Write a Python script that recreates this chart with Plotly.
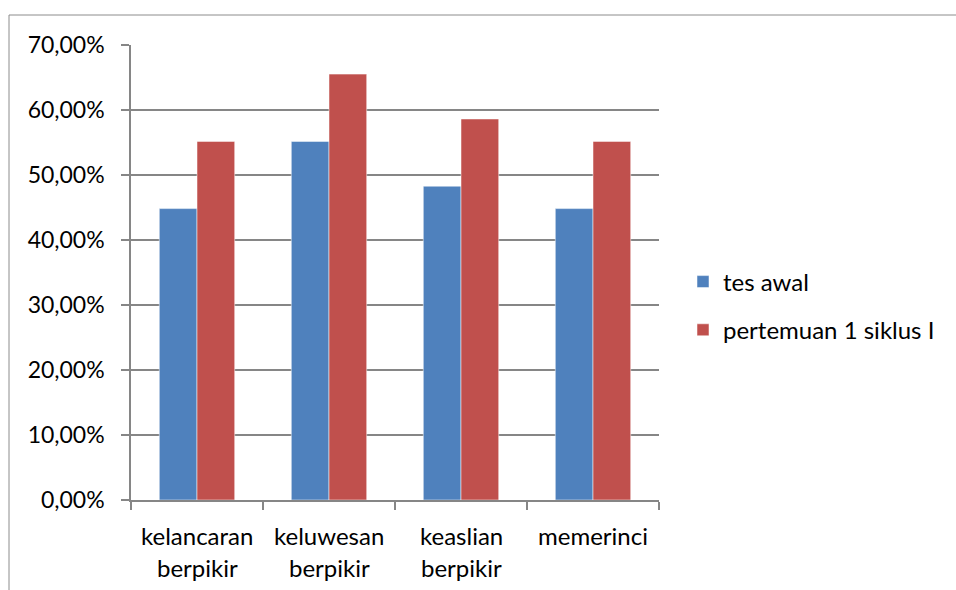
import plotly.graph_objects as go

categories = ["kelancaran berpikir", "keluwesan berpikir", "keaslian berpikir", "memerinci"]
label_lines = [["kelancaran", "berpikir"], ["keluwesan", "berpikir"], ["keaslian", "berpikir"], ["memerinci"]]
tes_awal = [0.4483, 0.5517, 0.4828, 0.4483]
pertemuan = [0.5517, 0.6552, 0.5862, 0.5517]
series_names = ["tes awal", "pertemuan 1 siklus I"]
colors = ["#4F81BD", "#C0504D"]
y_ticks = [0, 0.1, 0.2, 0.3, 0.4, 0.5, 0.6, 0.7]

FONT = "Lato"
FS = 24
TFS = 23
fig = go.Figure()
for name, vals, col in zip(series_names, [tes_awal, pertemuan], colors):
    fig.add_trace(go.Bar(x=categories, y=vals, name=name, marker_color=col,
                         marker_line=dict(color="rgba(255,255,255,0.5)", width=1),
                         legendgroup=name))

annotations = []
for cat, lines in zip(categories, label_lines):
    for i, line in enumerate(lines):
        py = 535 + 32 * i
        annotations.append(dict(x=cat, xref="x", yref="paper", y=(500 - py) / 455,
                                text=line, showarrow=False, xanchor="center", yanchor="middle",
                                font=dict(family=FONT, size=FS, color="black")))

fig.update_layout(
    width=956, height=590,
    margin=dict(l=131, r=297, t=45, b=90),
    paper_bgcolor="white", plot_bgcolor="white",
    separators=",.",
    barmode="group", bargap=0.4286, bargroupgap=0,
    font=dict(family=FONT, size=FS, color="black"),
    showlegend=True,
    legend=dict(x=(683 - 131) / 528, y=(500 - 306) / 455, xanchor="left", yanchor="middle",
                font=dict(size=FS), tracegroupgap=14, bgcolor="rgba(0,0,0,0)"),
    xaxis=dict(showline=True, linecolor="#868686", linewidth=1.5,
               ticks="outside", ticklen=8, tickcolor="#868686", tickwidth=1.5,
               tickson="boundaries", showgrid=False, showticklabels=False),
    yaxis=dict(range=[0, 0.7], tickvals=y_ticks, tickformat=".2%",
               showline=True, linecolor="#868686", linewidth=1.5,
               ticks="outside", ticklen=8, tickcolor="#868686", tickwidth=1.5,
               gridcolor="#868686", gridwidth=1.5, zeroline=False,
               ticklabelstandoff=12, tickfont=dict(size=TFS)),
    annotations=annotations,
    shapes=[dict(type="rect", xref="paper", yref="paper",
                 x0=(9 - 131) / 528, x1=2, y0=-1, y1=(500 - 15) / 455,
                 line=dict(color="#8c8c8c", width=1), layer="below")],
)
fig.write_html("out.html")
